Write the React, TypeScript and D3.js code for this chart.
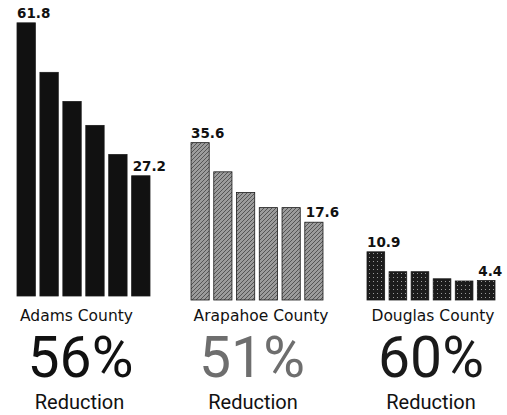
import { useMemo } from "react";
import * as d3 from "d3";

const WIDTH = 507;
const HEIGHT = 415;

// data
const counties = ["Adams County", "Arapahoe County", "Douglas County"];
const adamsValues = [61.8, 50.6, 44.0, 38.6, 32.0, 27.2];
const arapahoeValues = [35.6, 29.0, 24.3, 20.9, 20.9, 17.6];
const douglasValues = [10.9, 6.4, 6.4, 4.8, 4.3, 4.4];
const reductions = ["56%", "51%", "60%"];
const reductionLabel = "Reduction";

// layout for each small group (dx = nudges of the text under the bars)
const GROUPS = [
  { left: 17, width: 133, base: 296, fill: "#111111", pctColor: "#111111", dxName: -7, dxPct: -3, dxRed: -4 },
  { left: 191, width: 132, base: 300, fill: "url(#grayTex)", pctColor: "#6e6e6e", dxName: 4, dxPct: -5, dxRed: -4 },
  { left: 367, width: 128, base: 300, fill: "url(#darkTex)", pctColor: "#1a1a1a", dxName: 2, dxPct: 0, dxRed: 0 },
];
const PX_PER_UNIT = 4.42;

const BarGroup = ({
  values,
  name,
  pct,
  cfg,
}: {
  values: number[];
  name: string;
  pct: string;
  cfg: (typeof GROUPS)[number];
}) => {
  const xScale = useMemo(
    () =>
      d3
        .scaleBand<number>()
        .domain(d3.range(values.length))
        .range([cfg.left, cfg.left + cfg.width])
        .paddingInner(0.2)
        .paddingOuter(0),
    [values, cfg]
  );
  const yScale = d3
    .scaleLinear()
    .domain([0, 61.8])
    .range([cfg.base, cfg.base - 61.8 * PX_PER_UNIT]);

  const cx = cfg.left + cfg.width / 2;
  const last = values.length - 1;

  return (
    <g>
      {values.map((v, i) => (
        <rect
          key={i}
          x={xScale(i)}
          y={yScale(v)}
          width={xScale.bandwidth()}
          height={cfg.base - yScale(v)}
          fill={cfg.fill}
          stroke="#1a1a1a"
          strokeWidth={0.8}
        />
      ))}
      {[0, last].map((i) => (
        <text
          key={"l" + i}
          x={(xScale(i) ?? 0) + (i === 0 ? 0 : 1)}
          y={yScale(values[i]) - 5}
          fontFamily="DejaVu Sans"
          fontWeight="bold"
          fontSize={13.5}
          fill="#111"
        >
          {values[i]}
        </text>
      ))}
      <text
        x={cx + cfg.dxName}
        y={321}
        textAnchor="middle"
        fontFamily="DejaVu Sans"
        fontSize={15.5}
        fill="#111"
      >
        {name}
      </text>
      <text
        x={cx + cfg.dxPct}
        y={377}
        textAnchor="middle"
        fontFamily="Roboto"
        fontSize={57}
        fill={cfg.pctColor}
      >
        {pct}
      </text>
      <text
        x={cx + cfg.dxRed}
        y={409}
        textAnchor="middle"
        fontFamily="Roboto"
        fontSize={20}
        fill="#111"
      >
        {reductionLabel}
      </text>
    </g>
  );
};

export default function App() {
  const series = [adamsValues, arapahoeValues, douglasValues];
  return (
    <svg
      width={WIDTH}
      height={HEIGHT}
      style={{ position: "absolute", left: 0, top: 0, background: "#fff" }}
    >
      <defs>
        <pattern id="grayTex" width="4" height="4" patternUnits="userSpaceOnUse">
          <rect width="4" height="4" fill="#9c9c9c" />
          <path d="M0,4 L4,0" stroke="#555" strokeWidth="1" />
        </pattern>
        <pattern id="darkTex" width="4" height="4" patternUnits="userSpaceOnUse">
          <rect width="4" height="4" fill="#1c1c1c" />
          <rect x="1" y="1" width="1" height="1" fill="#9a9a9a" />
        </pattern>
      </defs>
      {GROUPS.map((cfg, i) => (
        <BarGroup
          key={i}
          values={series[i]}
          name={counties[i]}
          pct={reductions[i]}
          cfg={cfg}
        />
      ))}
    </svg>
  );
}
